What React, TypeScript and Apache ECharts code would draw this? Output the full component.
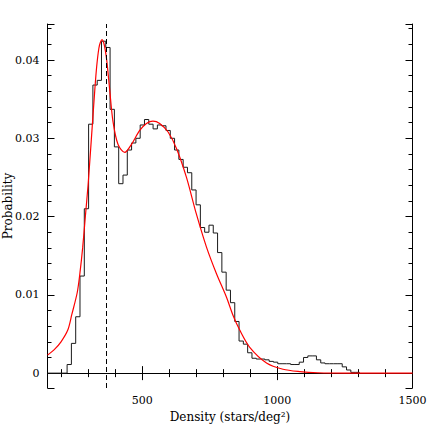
import React, { useEffect, useRef } from "react";
import * as echarts from "echarts";

// Histogram: first bin edge, bin width, and bin heights (probability)
const binStart = 222.5;
const binWidth = 15.9;
const histValues = [
  0.0011, 0.0038, 0.0072, 0.0124, 0.021, 0.0318, 0.0368, 0.0374, 0.0424, 0.0416,
  0.0337, 0.0289, 0.0242, 0.0253, 0.0285, 0.0294, 0.03, 0.0317, 0.0324, 0.0318,
  0.0312, 0.0317, 0.0316, 0.031, 0.03, 0.0285, 0.0273, 0.0263, 0.0256, 0.0234,
  0.0215, 0.0186, 0.018, 0.0189, 0.0179, 0.0154, 0.0129, 0.0106, 0.009, 0.0066,
  0.0041, 0.0037, 0.0026, 0.0019, 0.0018, 0.0018, 0.0017, 0.0015, 0.0014, 0.0012,
  0.0012, 0.0012, 0.0011, 0.0011, 0.0014, 0.002, 0.0022, 0.0022, 0.0017, 0.0013,
  0.0012, 0.0012, 0.0012, 0.0012, 0.0008, 0.0004, 0.0001, 0.0001,
];

// Fitted model curve
const fitX = [
  150, 175, 200, 225, 240, 260, 270, 280, 290, 300, 312, 325, 332, 340, 346, 352,
  358, 364, 370, 380, 392, 411, 436, 460, 491, 516, 540, 565, 596, 627, 664, 700,
  738, 775, 812, 836, 861, 898, 960, 1021, 1083, 1150, 1250, 1500,
];
const fitY = [
  0.0023, 0.003, 0.004, 0.0055, 0.0075, 0.0103, 0.0128, 0.016, 0.02, 0.024, 0.0298,
  0.0362, 0.0392, 0.0415, 0.0423, 0.0426, 0.0422, 0.0412, 0.0397, 0.0362, 0.0322,
  0.0292, 0.0282, 0.0292, 0.031, 0.0319, 0.0322, 0.0319, 0.0308, 0.0287, 0.025,
  0.0204, 0.0161, 0.0127, 0.0097, 0.0074, 0.0055, 0.0033, 0.0013, 0.0005, 0.0002,
  0.00005, 0, 0,
];

const peakLine = 367;
const xMin = 150;
const xMax = 1500;
const yMin = -0.0019;
const yMax = 0.0446;

const FONT = "DejaVu Serif";

export default function App() {
  const ref = useRef<HTMLDivElement>(null);
  useEffect(() => {
    if (!ref.current) return;
    const chart = echarts.init(ref.current, null, { renderer: "svg" });

    const histData: [number, number][] = [[xMin, 0]];
    histValues.forEach((v, i) => histData.push([binStart + i * binWidth, v]));
    histData.push([binStart + histValues.length * binWidth, 0]);

    const fitData = fitX.map((x, i) => [x, fitY[i]]);

    const axisLine = { show: true, lineStyle: { color: "#000", width: 1 } };
    const tick = { show: true, inside: true, length: 7, lineStyle: { color: "#000", width: 1 } };
    const minor = { show: true, splitNumber: 5, length: 4, lineStyle: { color: "#000", width: 1 } };
    const label = { fontFamily: FONT, fontSize: 11, color: "#000" };
    const nameStyle = { fontFamily: FONT, fontSize: 12, color: "#000" };
    const plain = (v: number) => String(Math.round(v * 10000) / 10000);

    chart.setOption({
      animation: false,
      backgroundColor: "#fff",
      grid: {
        left: 47.5,
        right: 23.5,
        top: 24,
        bottom: 48,
        containLabel: false,
        outerBoundsMode: "none",
      },
      xAxis: [
        {
          type: "value",
          position: "bottom",
          min: xMin,
          max: xMax,
          splitNumber: 3,
          axisLine,
          axisTick: tick,
          minorTick: minor,
          splitLine: { show: false },
          axisLabel: { ...label, margin: 7, showMinLabel: false, formatter: plain },
          name: "Density (stars/deg²)",
          nameLocation: "middle",
          nameGap: 20,
          nameTextStyle: nameStyle,
        },
        {
          type: "value",
          position: "top",
          min: xMin,
          max: xMax,
          splitNumber: 3,
          axisLine,
          axisTick: tick,
          minorTick: minor,
          splitLine: { show: false },
          axisLabel: { show: false },
        },
      ],
      yAxis: [
        {
          type: "value",
          position: "left",
          min: yMin,
          max: yMax,
          splitNumber: 5,
          axisLine,
          axisTick: tick,
          minorTick: minor,
          splitLine: { show: false },
          axisLabel: {
            ...label,
            margin: 8,
            showMinLabel: false,
            showMaxLabel: false,
            formatter: plain,
          },
          name: "Probability",
          nameLocation: "middle",
          nameGap: 34,
          nameMoveOverlap: false,
          nameTextStyle: nameStyle,
        },
        {
          type: "value",
          position: "right",
          min: yMin,
          max: yMax,
          splitNumber: 5,
          axisLine,
          axisTick: tick,
          minorTick: minor,
          splitLine: { show: false },
          axisLabel: { show: false },
        },
      ],
      series: [
        {
          type: "line",
          step: "end",
          data: histData,
          showSymbol: false,
          lineStyle: { color: "#1a1a1a", width: 1 },
          markLine: {
            silent: true,
            symbol: ["none", "none"],
            label: { show: false },
            lineStyle: { type: [5, 3], color: "#000", width: 1 },
            data: [{ xAxis: peakLine }],
          },
        },
        {
          type: "line",
          data: fitData,
          smooth: 0.3,
          showSymbol: false,
          lineStyle: { color: "#ff0000", width: 1.2 },
        },
      ],
    });
    return () => chart.dispose();
  }, []);
  return (
    <div
      ref={ref}
      style={{ position: "absolute", left: 0, top: 0, width: 436, height: 436 }}
    />
  );
}
